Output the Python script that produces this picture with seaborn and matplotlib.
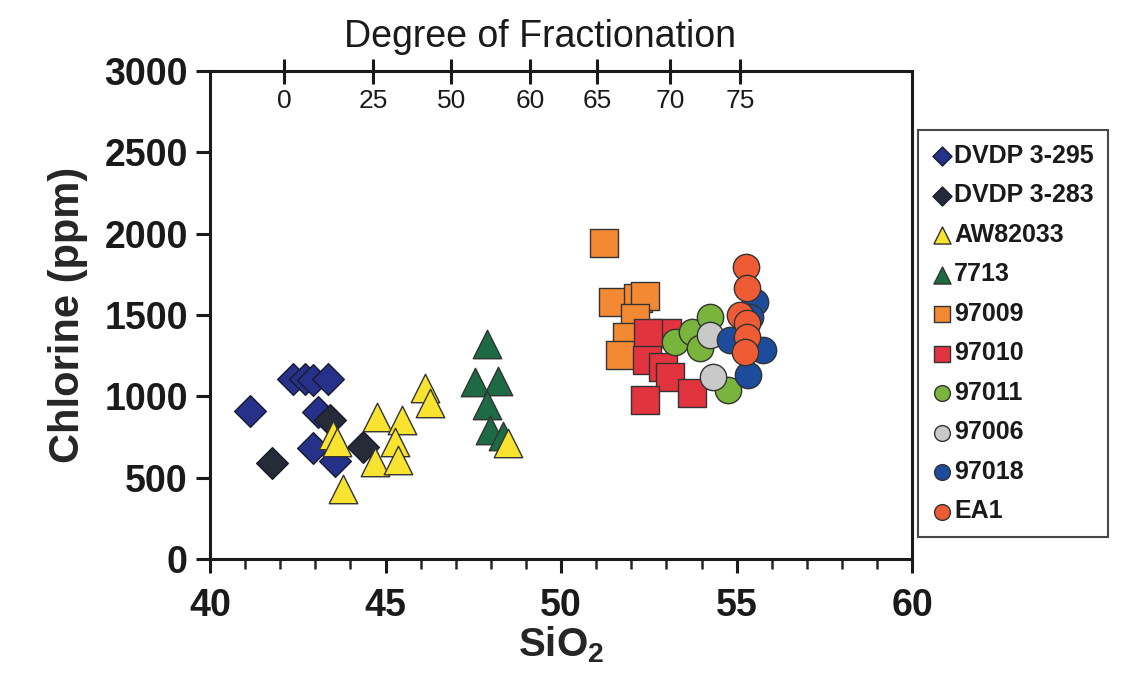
import numpy as np
import pandas as pd
import seaborn as sns
import matplotlib.pyplot as plt
from matplotlib.ticker import MultipleLocator

sns.set_style("ticks")
plt.rcParams.update({
    'font.family': ['Liberation Sans', 'DejaVu Sans'],
    'mathtext.fontset': 'custom',
    'mathtext.rm': 'Liberation Sans',
    'mathtext.bf': 'Liberation Sans:bold',
    'figure.dpi': 100,
})

# SiO2 (wt%) / Cl (ppm) per sample suite
dvdp295_x = [41.14, 42.36, 42.71, 42.93, 43.36, 43.08, 42.93, 43.56]
dvdp295_y = [910, 1107, 1107, 1100, 1107, 904, 682, 602]
dvdp283_x = [41.77, 43.42, 44.36]
dvdp283_y = [590, 856, 688]
aw82033_x = [44.76, 45.47, 45.27, 44.70, 45.36, 46.13, 46.27, 43.50, 43.62, 43.79, 48.49]
aw82033_y = [873, 854, 719, 596, 608, 1051, 959, 762, 719, 430, 713]
s7713_x = [47.89, 47.55, 48.21, 47.89, 47.98, 48.35]
s7713_y = [1322, 1088, 1094, 947, 793, 756]
s97009_x = [51.23, 51.48, 52.19, 52.39, 52.11, 51.88, 51.68]
s97009_y = [1943, 1580, 1604, 1617, 1481, 1365, 1254]
s97010_x = [53.02, 52.48, 52.45, 52.91, 53.11, 52.39, 53.73]
s97010_y = [1389, 1389, 1223, 1180, 1119, 977, 1020]
s97011_x = [53.25, 53.73, 54.25, 53.96, 54.76]
s97011_y = [1334, 1395, 1488, 1297, 1039]
s97006_x = [54.25, 54.33]
s97006_y = [1377, 1119]
s97018_x = [55.53, 55.76, 55.33, 54.81, 55.38]
s97018_y = [1580, 1285, 1131, 1346, 1488]
ea1_x = [55.27, 55.30, 55.10, 55.30, 55.30, 55.24]
ea1_y = [1795, 1666, 1500, 1451, 1365, 1273]

# degree of fractionation scale (top axis) against SiO2
frac_pos = [42.11, 44.64, 46.87, 49.12, 51.03, 53.10, 55.10]
frac_labels = ['0', '25', '50', '60', '65', '70', '75']

groups = [
    ('DVDP 3-295', dvdp295_x, dvdp295_y, 'D', '#263189', 260),
    ('DVDP 3-283', dvdp283_x, dvdp283_y, 'D', '#262b38', 260),
    ('AW82033', aw82033_x, aw82033_y, '^', '#f7e330', 420),
    ('7713', s7713_x, s7713_y, '^', '#1d6b45', 420),
    ('97009', s97009_x, s97009_y, 's', '#f38a33', 380),
    ('97010', s97010_x, s97010_y, 's', '#e2343f', 380),
    ('97011', s97011_x, s97011_y, 'o', '#79b53c', 360),
    ('97006', s97006_x, s97006_y, 'o', '#c9c9c9', 360),
    ('97018', s97018_x, s97018_y, 'o', '#1e4c9c', 360),
    ('EA1', ea1_x, ea1_y, 'o', '#ef5b34', 360),
]

fig = plt.figure(figsize=(11.29, 6.84))
ax = fig.add_axes([0.186, 0.183, 0.622, 0.713])

for name, xs, ys, mk, col, size in groups:
    edge = '#1a1a2e' if mk == 'D' else '#333333'
    sns.scatterplot(x=xs, y=ys, marker=mk, s=size, color=col,
                    edgecolor=edge, linewidth=1.0, ax=ax, label=name,
                    zorder=4 if name == 'AW82033' else 3)

ax.set_xlim(40, 60)
ax.set_ylim(0, 3000)
ax.set_xticks([40, 45, 50, 55, 60])
ax.set_yticks(np.arange(0, 3001, 500))
ax.xaxis.set_minor_locator(MultipleLocator(1))
for sp in ax.spines.values():
    sp.set_linewidth(2.2)
    sp.set_color('#1a1a1a')
ax.tick_params(axis='both', which='major', direction='out', width=2.2,
               length=10, labelsize=27, colors='#1a1a1a', pad=6)
ax.tick_params(axis='x', which='major', pad=11)
ax.tick_params(axis='x', which='minor', direction='out', width=1.8, length=7)
for lab in ax.get_xticklabels() + ax.get_yticklabels():
    lab.set_fontweight('bold')
if ax.get_legend():
    ax.get_legend().remove()

ax.set_xlabel(r'SiO$_{\mathbf{2}}$', fontsize=29, fontweight='bold', labelpad=0)
ax.set_ylabel('Chlorine (ppm)', fontsize=30, fontweight='bold', labelpad=12)

# top axis: degree of fractionation, labels inside the frame
ax2 = ax.twiny()
ax2.set_xlim(ax.get_xlim())
ax2.set_xticks(frac_pos)
ax2.set_xticklabels(frac_labels)
ax2.tick_params(axis='x', direction='inout', length=18, width=2.2,
                labelsize=19, pad=-39, colors='#1a1a1a')
for sp in ax2.spines.values():
    sp.set_visible(False)
fig.text(0.478, 0.946, 'Degree of Fractionation', fontsize=27,
         ha='center', va='center', color='#1a1a1a')

handles, labels = ax.get_legend_handles_labels()
leg = fig.legend(handles, labels, loc='upper left', bbox_to_anchor=(0.813, 0.81),
                 prop={'weight': 'bold', 'size': 18}, markerscale=0.6,
                 handlelength=0.8, handletextpad=0.1, labelspacing=0.62,
                 borderpad=0.55, borderaxespad=0, frameon=True, fancybox=False)
leg.get_frame().set_edgecolor('#1a1a1a')
leg.get_frame().set_linewidth(1.5)
for t in leg.get_texts():
    t.set_color('#1a1a1a')

fig.savefig('out.png', dpi=100)
